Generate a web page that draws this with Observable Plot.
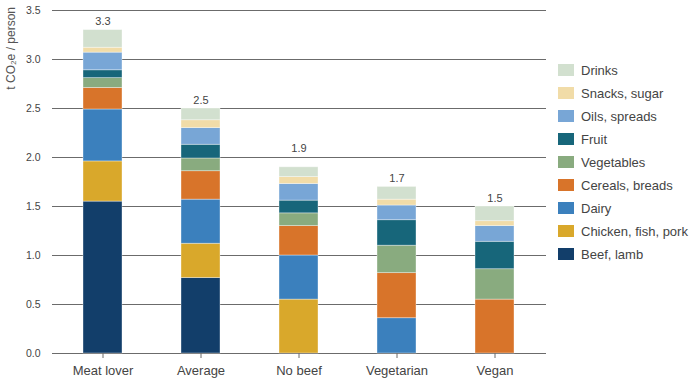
<!DOCTYPE html>
<html>
<head>
<meta charset="utf-8">
<script src="https://cdn.jsdelivr.net/npm/d3@7"></script>
<script src="https://cdn.jsdelivr.net/npm/@observablehq/plot@0.6"></script>
<style>
  html, body { margin: 0; padding: 0; background: #fff; }
  #chart { width: 700px; height: 386px; }
  svg { font-family: "Liberation Sans", Arial, sans-serif; }
</style>
</head>
<body>
<div id="chart"></div>
<script>
const categories = ["Meat lover", "Average", "No beef", "Vegetarian", "Vegan"];
const groups = ["Beef, lamb", "Chicken, fish, pork", "Dairy", "Cereals, breads", "Vegetables", "Fruit", "Oils, spreads", "Snacks, sugar", "Drinks"];
const beefLamb   = [1.55, 0.77, 0.00, 0.00, 0.00];
const chicken    = [0.41, 0.35, 0.55, 0.00, 0.00];
const dairy      = [0.53, 0.45, 0.45, 0.36, 0.00];
const cereals    = [0.22, 0.29, 0.30, 0.46, 0.55];
const vegetables = [0.10, 0.13, 0.13, 0.28, 0.31];
const fruit      = [0.08, 0.14, 0.13, 0.26, 0.28];
const oils       = [0.18, 0.17, 0.17, 0.15, 0.16];
const snacks     = [0.05, 0.08, 0.07, 0.06, 0.05];
const drinks     = [0.18, 0.12, 0.10, 0.13, 0.15];
const totalLabels = ["3.3", "2.5", "1.9", "1.7", "1.5"];
const yTicks = [0, 0.5, 1, 1.5, 2, 2.5, 3, 3.5];
const colors = ["#123e6a", "#d9a82b", "#3b80bd", "#d8742a", "#89ab7f", "#17667a", "#78a6d6", "#f1dca8", "#d2e0cf"];

const series = [beefLamb, chicken, dairy, cereals, vegetables, fruit, oils, snacks, drinks];
const rows = [];
groups.forEach((g, gi) => categories.forEach((c, ci) => rows.push({category: c, group: g, value: series[gi][ci]})));
const totals = categories.map((c, ci) => ({category: c, total: d3.sum(series, s => s[ci]), label: totalLabels[ci]}));

function labelY(d) {
  let t = d.total + 0.087;
  const nearest = Math.round(t * 2) / 2;
  if (Math.abs(t - nearest) < 0.06) t += 0.105;
  return t;
}

const plot = Plot.plot({
  width: 700,
  height: 386,
  marginLeft: 52,
  marginRight: 154,
  marginTop: 10,
  marginBottom: 33,
  style: {fontFamily: "Liberation Sans, Arial, sans-serif", color: "#444", background: "#fff"},
  x: {domain: categories, paddingInner: 0.6, paddingOuter: 0.3, label: null},
  y: {domain: [0, 3.5], label: null},
  color: {domain: groups, range: colors},
  marks: [
    Plot.gridY(yTicks, {stroke: "#6b6b6b", strokeOpacity: 1, strokeWidth: 1}),
    Plot.barY(rows, {x: "category", y: "value", fill: "group", stroke: "#fff", strokeOpacity: 0.45, strokeWidth: 0.8}),
    Plot.text(totals, {x: "category", y: labelY, text: "label", fontSize: 11, fill: "#444"}),
    Plot.axisY(yTicks, {tickSize: 0, tickPadding: 12, tickFormat: d3.format(".1f"), fontSize: 10.5, fill: "#444", label: null}),
    Plot.axisX({tickSize: 5, tickPadding: 7, stroke: "#6b6b6b", fontSize: 13, fill: "#444", label: null})
  ]
});

document.getElementById("chart").appendChild(plot);

const svg = d3.select(plot);
svg.append("text")
  .attr("transform", "translate(11,7) rotate(-90)")
  .attr("text-anchor", "end")
  .attr("dy", "0.35em")
  .attr("font-size", 12)
  .attr("fill", "#555")
  .text("t CO₂e / person");

const legend = svg.append("g").attr("text-anchor", "start");
const legendGroups = groups.slice().reverse();
legendGroups.forEach((g, i) => {
  const y = 70 + i * 23;
  legend.append("rect")
    .attr("x", 558).attr("y", y - 6)
    .attr("width", 16).attr("height", 12)
    .attr("fill", plot.scale("color").apply(g));
  legend.append("text")
    .attr("x", 581).attr("y", y)
    .attr("dy", "0.35em")
    .attr("text-anchor", "start")
    .attr("font-size", 13)
    .attr("fill", "#444")
    .text(g);
});
</script>
</body>
</html>
